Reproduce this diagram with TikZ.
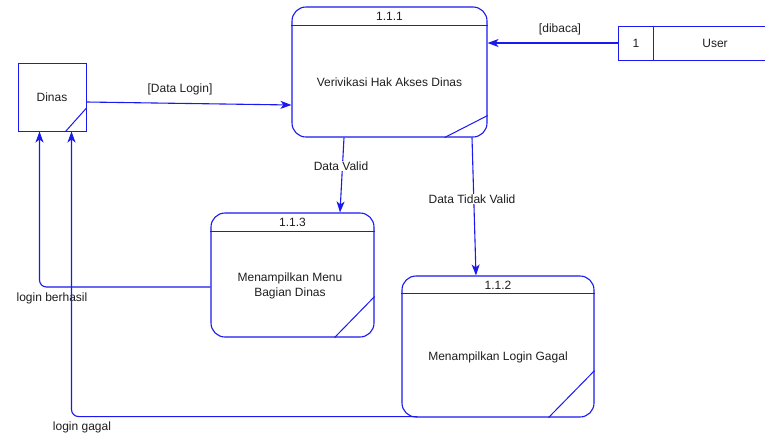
\documentclass[tikz,border=0pt]{standalone}
\usepackage{fontspec}
\setmainfont{Liberation Sans}
\usetikzlibrary{arrows.meta}
\definecolor{dfd}{RGB}{25,25,240}
\definecolor{txt}{RGB}{30,30,30}
\begin{document}
\begin{tikzpicture}[x=1pt,y=-1pt,
  lbl/.style={font=\fontsize{12}{14.5}\selectfont, text=txt, inner sep=1pt},
  wlbl/.style={lbl, fill=white},
  proc/.style={draw=dfd, line width=1.1pt, rounded corners=14pt, inner sep=0pt},
  ent/.style={draw=dfd, line width=1pt, inner sep=0pt},
  deco/.style={draw=dfd, line width=1pt},
  flow/.style={draw=dfd, line width=1.1pt, -{Stealth[length=11pt,width=8pt,inset=3pt]}},
  flowr/.style={flow, rounded corners=7pt}]
\useasboundingbox (0,0) rectangle (765,437);

% external entity Dinas
\node[ent, minimum width=68pt, minimum height=68pt] (dinas) at (52,97) {};
\node[lbl] (dinasT) at (dinas.center) {Dinas};
\draw[deco] ([yshift=-11pt]dinas.east) -- ([xshift=-21pt]dinas.south east);

% data store User
\node[ent, minimum width=152pt, minimum height=34pt] (user) at (694,43) {};
\draw[deco] ([xshift=36pt]user.north west) -- ([xshift=36pt]user.south west);
\node[lbl] (userN) at (636,43) {1};
\node[lbl] (userT) at (715,43) {User};

% process 1.1.1
\node[proc, minimum width=195pt, minimum height=130pt] (p111) at (389.5,72) {};
\draw[deco] ([yshift=-19pt]p111.north west) -- ([yshift=-19pt]p111.north east);
\draw[deco] ([yshift=22pt]p111.south east) -- ([xshift=-43pt]p111.south east);
\node[lbl] (p111id) at (389.5,16) {1.1.1};
\node[lbl] (p111T) at (389.5,82) {Verivikasi Hak Akses Dinas};

% process 1.1.3
\node[proc, minimum width=163pt, minimum height=124pt] (p113) at (292.5,275) {};
\draw[deco] ([yshift=-19pt]p113.north west) -- ([yshift=-19pt]p113.north east);
\draw[deco] ([yshift=41pt]p113.south east) -- ([xshift=-40pt]p113.south east);
\node[lbl] (p113id) at (292.5,222) {1.1.3};
\node[lbl, align=center] (p113T) at (290,286) {Menampilkan Menu\\Bagian Dinas};

% process 1.1.2
\node[proc, minimum width=192pt, minimum height=141pt] (p112) at (498,346.5) {};
\draw[deco] ([yshift=-18pt]p112.north west) -- ([yshift=-18pt]p112.north east);
\draw[deco] ([yshift=47pt]p112.south east) -- ([xshift=-46pt]p112.south east);
\node[lbl] (p112id) at (498,285) {1.1.2};
\node[lbl] (p112T) at (498,357) {Menampilkan Login Gagal};

% flows
\draw[flow] ([yshift=-5pt]dinas.east) -- ([yshift=-33pt]p111.west);
\node[lbl] (l1) at (180,89) {[Data Login]};

\draw[flow] (user.west) -- (user.west -| p111.east);
\node[lbl] (l2) at (560,29) {[dibaca]};

\draw[flow] ([xshift=-45.5pt]p111.south) -- ([xshift=47.5pt]p113.north);
\node[wlbl] (l3) at (341,166) {Data Valid};

\draw[flow] ([xshift=82.5pt]p111.south) -- ([xshift=-22pt]p112.north);
\node[wlbl] (l4) at (472,199) {Data Tidak Valid};

\draw[flowr] ([yshift=-12pt]p113.west) -| ([xshift=22pt]dinas.south west);
\node[lbl] (l5) at (52,298) {login berhasil};

\draw[flowr] ([xshift=16pt,yshift=1pt]p112.south west) -| ([xshift=54pt]dinas.south west);
\node[lbl] (l6) at (82,427) {login gagal};
\end{tikzpicture}
\end{document}
